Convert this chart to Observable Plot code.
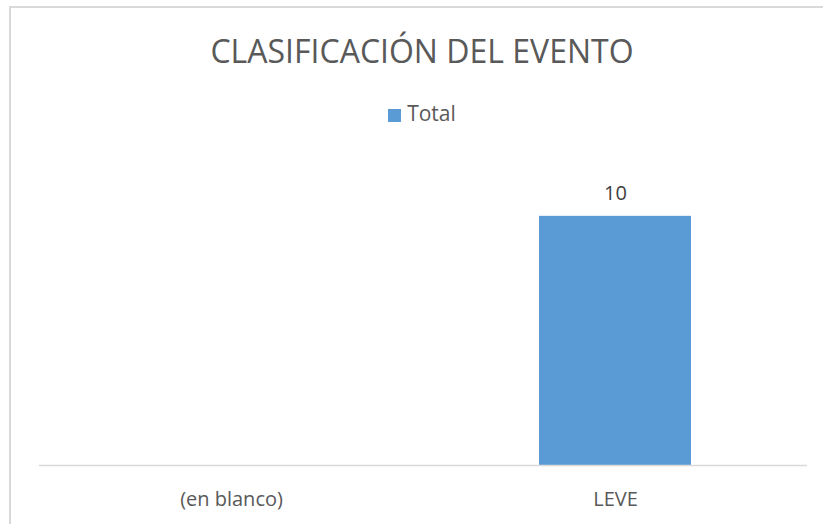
<!DOCTYPE html>
<html>
<head>
<meta charset="utf-8">
<script src="https://cdn.jsdelivr.net/npm/d3@7"></script>
<script src="https://cdn.jsdelivr.net/npm/@observablehq/plot@0.6"></script>
<style>
  html, body { margin: 0; padding: 0; background: #fff; overflow: hidden; width: 823px; height: 524px; }
  #frame { position: absolute; left: 9px; top: 6px; width: 900px; height: 600px;
           border-left: 2px solid #d9d9d9; border-top: 2px solid #d9d9d9; box-sizing: border-box; }
  #title { position: absolute; left: 9px; width: 826px; top: 35px; text-align: center;
           font-family: "Open Sans", sans-serif; font-weight: 400; font-size: 32px; line-height: 32px; color: #595959; white-space: nowrap; }
  #legend { position: absolute; left: 9px; width: 826px; top: 103px; display: flex; justify-content: center; align-items: center;
            font-family: "Open Sans", sans-serif; font-size: 21px; line-height: 21px; color: #595959; }
  #legend .sw { width: 13px; height: 13px; background: #5b9bd5; margin-right: 6px; margin-top: 4px; }
  #chart { position: absolute; left: 0; top: 140px; }
</style>
</head>
<body>
<div id="frame"></div>
<div id="title"></div>
<div id="legend"></div>
<div id="chart"></div>
<script>
const titleText = "CLASIFICACIÓN DEL EVENTO";
const seriesName = "Total";
const categories = ["(en blanco)", "LEVE"];
const totals = [null, 10];
const barColor = "#5b9bd5";

document.getElementById("title").textContent = titleText;
const lg = document.getElementById("legend");
const sw = document.createElement("span"); sw.className = "sw"; lg.appendChild(sw);
const lt = document.createElement("span"); lt.textContent = seriesName; lg.appendChild(lt);

const data = categories.map((c, i) => ({category: c, total: totals[i]}));

const chart = Plot.plot({
  width: 823,
  height: 384,
  marginTop: 26,
  marginBottom: 59,
  marginLeft: 39,
  marginRight: 16,
  style: {fontFamily: "'Open Sans', sans-serif", color: "#595959", background: "transparent", overflow: "visible"},
  x: {domain: categories, paddingInner: 0.604, paddingOuter: 0.302, label: null},
  y: {domain: [0, 12], axis: null},
  marks: [
    Plot.barY(data, {x: "category", y: "total", fill: barColor}),
    Plot.ruleY([0], {stroke: "#d9d9d9", strokeWidth: 1.5}),
    Plot.text(data, {x: "category", y: "total", text: d => d.total == null ? null : String(d.total),
      lineAnchor: "middle", dy: -23, fontSize: 20, fill: "#404040"}),
    Plot.axisX({tickSize: 0, tickPadding: 26, fontSize: 20, label: null})
  ]
});
document.getElementById("chart").appendChild(chart);
</script>
</body>
</html>
